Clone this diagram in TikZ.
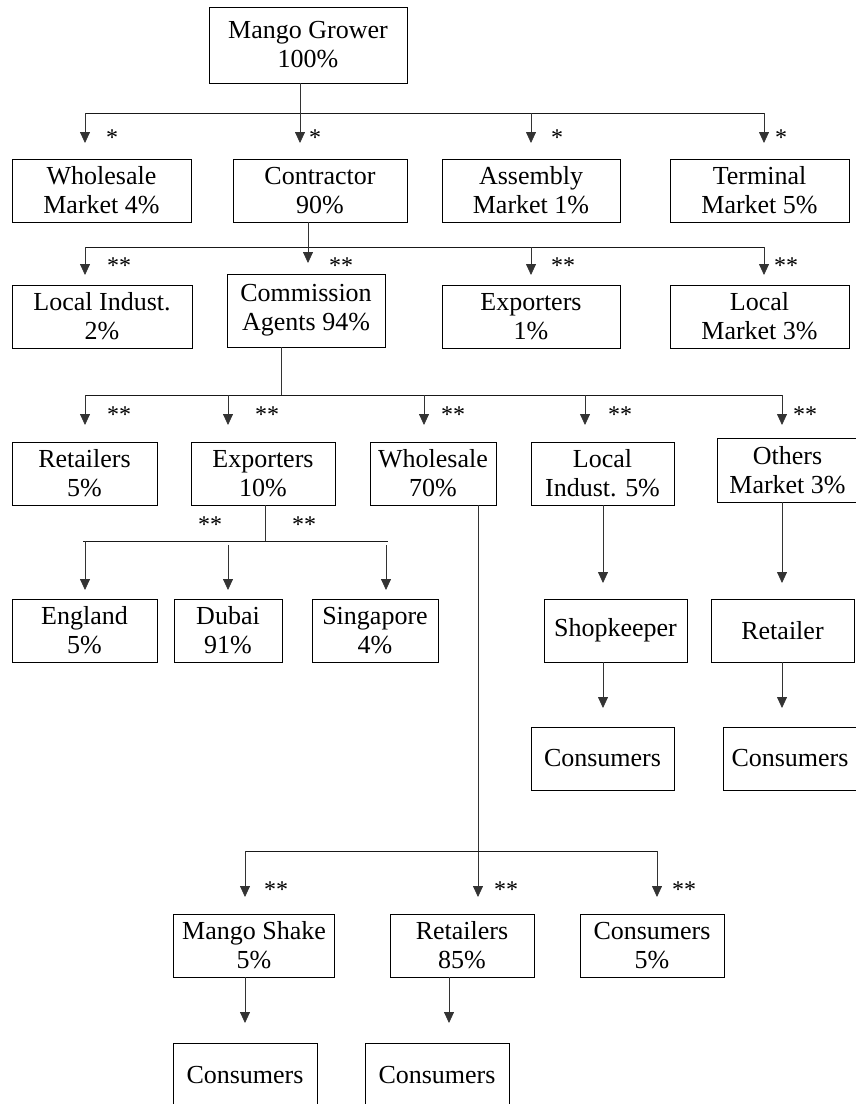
\documentclass[tikz,border=0pt]{standalone}
\usepackage{fontspec}
\setmainfont{Liberation Serif}
\usetikzlibrary{arrows.meta}
\begin{document}
\begin{tikzpicture}[x=1pt,y=-1pt,
  box/.style={draw, line width=0.9pt, inner sep=0pt, align=center,
              font=\fontsize{26}{29}\selectfont},
  conn/.style={line width=0.75pt, draw=black!80},
  bus/.style={line width=0.9pt, draw=black!90},
  arr/.style={conn, -{Triangle[length=11pt,width=10pt]}},
  star/.style={anchor=base, inner sep=0pt, font=\fontsize{24}{24}\selectfont}]
\useasboundingbox (0,0) rectangle (856,1104);

% ---------- boxes ----------
\node[box, minimum width=198, minimum height=76] (grower) at (308,45) {Mango Grower\\100\%};

\node[box, minimum width=179, minimum height=63] (wm) at (101.5,190.5) {Wholesale\\Market 4\%};
\node[box, minimum width=174, minimum height=63] (contractor) at (320,190.5) {Contractor\\90\%};
\node[box, minimum width=178, minimum height=63] (assembly) at (531,190.5) {Assembly\\Market 1\%};
\node[box, minimum width=179, minimum height=63] (terminal) at (759.5,190.5) {Terminal\\Market 5\%};

\node[box, minimum width=180, minimum height=63] (li1) at (102,316.5) {Local Indust.\\2\%};
\node[box, minimum width=158, minimum height=73] (ca) at (306,310.5) {Commission\\Agents 94\%};
\node[box, minimum width=178, minimum height=63] (exp1) at (531,316.5) {Exporters\\1\%};
\node[box, minimum width=179, minimum height=63] (lm) at (759.5,316.5) {Local\\Market 3\%};

\node[box, minimum width=145, minimum height=63] (ret1) at (84.5,473.5) {Retailers\\5\%};
\node[box, minimum width=144, minimum height=63] (exp2) at (263,473.5) {Exporters\\10\%};
\node[box, minimum width=126, minimum height=63] (ws) at (433,473.5) {Wholesale\\70\%};
\node[box, minimum width=143, minimum height=63] (li2) at (602.5,473.5) {Local\\Indust. 5\%};
\node[box, minimum width=141, minimum height=64] (om) at (787.5,470) {Others\\Market 3\%};

\node[box, minimum width=145, minimum height=63] (eng) at (84.5,630.5) {England\\5\%};
\node[box, minimum width=108, minimum height=63] (dubai) at (228,630.5) {Dubai\\91\%};
\node[box, minimum width=126, minimum height=63] (sing) at (375,630.5) {Singapore\\4\%};
\node[box, minimum width=143, minimum height=63] (shop) at (615.5,630.5) {Shopkeeper};
\node[box, minimum width=143, minimum height=63] (retailer) at (782.5,630.5) {Retailer};

\node[box, minimum width=143, minimum height=63] (c1) at (602.5,758.5) {Consumers};
\node[box, minimum width=134, minimum height=63] (c2) at (790,758.5) {Consumers};

\node[box, minimum width=161, minimum height=63] (ms) at (254,945.5) {Mango Shake\\5\%};
\node[box, minimum width=144, minimum height=63] (ret2) at (462,945.5) {Retailers\\85\%};
\node[box, minimum width=144, minimum height=63] (cons5) at (652,945.5) {Consumers\\5\%};

\node[box, minimum width=144, minimum height=64] (c3) at (245,1075) {Consumers};
\node[box, minimum width=144, minimum height=64] (c4) at (437,1075) {Consumers};

% ---------- level 1 ----------
\coordinate (j1) at (300,113);
\coordinate (j1L) at (85,113);
\coordinate (j1C) at (531,113);
\coordinate (j1R) at (764,113);
\draw[conn] (grower.south -| j1) -- (j1);
\draw[bus] (j1L) -- (j1R);
\foreach \c in {j1L,j1,j1C,j1R}{\draw[arr] (\c) -- ++(0,30);}
\node[star] (s1a) at (112,145) {*};
\node[star] (s1b) at (315,145) {*};
\node[star] (s1c) at (557,145) {*};
\node[star] (s1d) at (781,145) {*};

% ---------- level 2 ----------
\coordinate (j2) at (308,247);
\coordinate (j2L) at (85,247);
\coordinate (j2C) at (531,247);
\coordinate (j2R) at (764,247);
\draw[conn] (contractor.south -| j2) -- (j2);
\draw[bus] (j2L) -- (j2R);
\draw[arr] (j2L) -- ++(0,28);
\draw[arr] (j2) -- ++(0,16);
\draw[arr] (j2C) -- ++(0,28);
\draw[arr] (j2R) -- ++(0,28);
\node[star] (s2a) at (119,273) {**};
\node[star] (s2b) at (341,273) {**};
\node[star] (s2c) at (563,273) {**};
\node[star] (s2d) at (786,273) {**};

% ---------- level 3 ----------
\coordinate (j3) at (281,395);
\coordinate (j3a) at (85,395);
\coordinate (j3b) at (228,395);
\coordinate (j3c) at (424,395);
\coordinate (j3d) at (585,395);
\coordinate (j3e) at (782,395);
\draw[conn] (ca.south -| j3) -- (j3);
\draw[bus] (j3a) -- (j3e);
\foreach \c in {j3a,j3b,j3c,j3d,j3e}{\draw[arr] (\c) -- ++(0,30);}
\node[star] (s3a) at (119,422) {**};
\node[star] (s3b) at (267,422) {**};
\node[star] (s3c) at (453,422) {**};
\node[star] (s3d) at (620,422) {**};
\node[star] (s3e) at (805,422) {**};

% ---------- exporters ----------
\coordinate (j4) at (265,541);
\coordinate (j4L) at (83,541);
\coordinate (j4R) at (388,541);
\coordinate (j4a) at (85,541);
\coordinate (j4b) at (228,545);
\coordinate (j4c) at (386,545);
\draw[conn] (exp2.south -| j4) -- (j4);
\draw[bus] (j4L) -- (j4R);
\draw[arr] (j4a) -- ++(0,49);
\draw[arr] (j4b) -- ++(0,45);
\draw[arr] (j4c) -- ++(0,45);
\node[star] (s4a) at (210,532) {**};
\node[star] (s4b) at (304,532) {**};

% ---------- local indust / others ----------
\coordinate (x5) at (603,583);
\coordinate (x6) at (782,583);
\draw[arr] (li2.south -| x5) -- (x5);
\draw[arr] (om.south -| x6) -- (x6);
\coordinate (x7) at (603,708);
\coordinate (x8) at (782,708);
\draw[arr] (shop.south -| x7) -- (x7);
\draw[arr] (retailer.south -| x8) -- (x8);

% ---------- wholesale ----------
\coordinate (j5) at (478,851);
\coordinate (j5L) at (245,851);
\coordinate (j5R) at (657,851);
\coordinate (t5) at (478,897);
\draw[arr] (ws.south -| j5) -- (t5);
\draw[bus] (j5L) -- (j5R);
\draw[arr] (j5L) -- ++(0,46);
\draw[arr] (j5R) -- ++(0,46);
\node[star] (s5a) at (276,897) {**};
\node[star] (s5b) at (506,897) {**};
\node[star] (s5c) at (684,897) {**};

\coordinate (x9) at (245,1023);
\coordinate (x10) at (449,1023);
\draw[arr] (ms.south -| x9) -- (x9);
\draw[arr] (ret2.south -| x10) -- (x10);
\end{tikzpicture}
\end{document}
